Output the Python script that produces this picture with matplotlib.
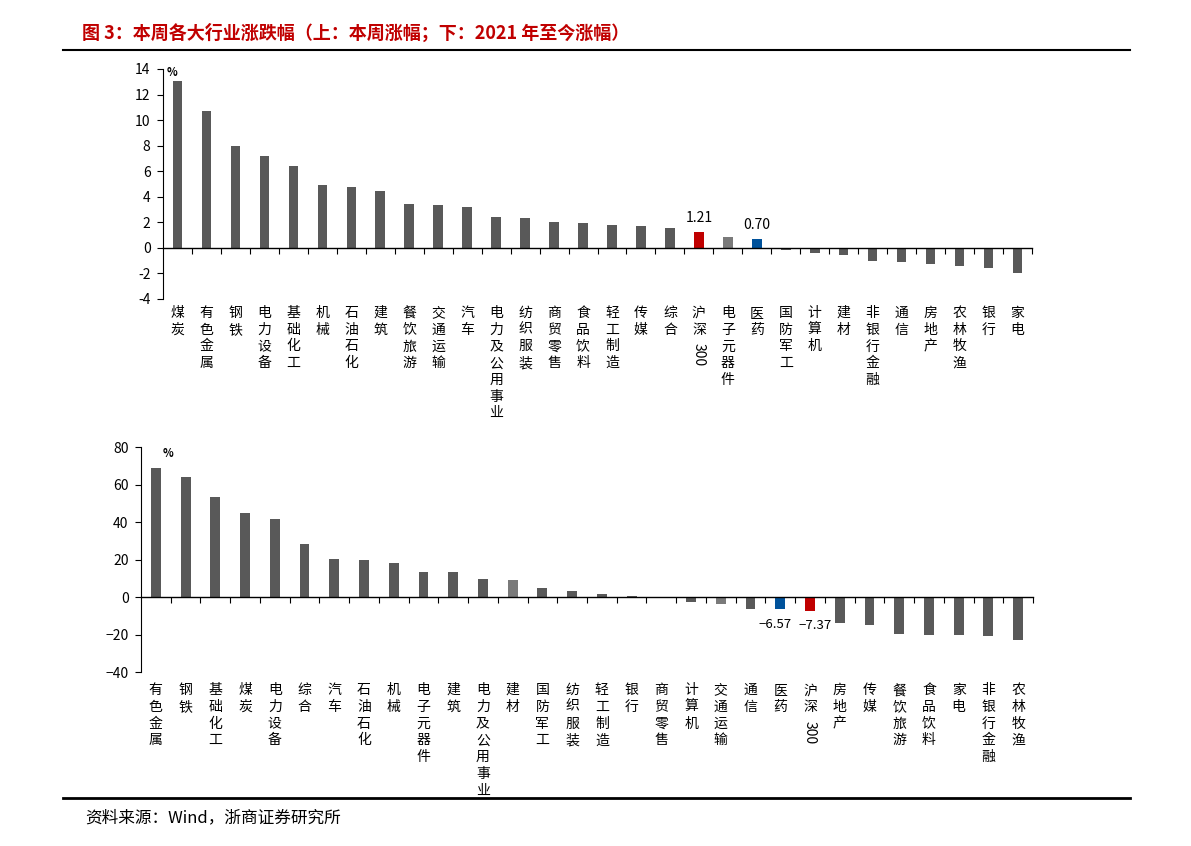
import matplotlib
matplotlib.use("Agg")
import matplotlib.pyplot as plt
from matplotlib.lines import Line2D

plt.rcParams['font.family'] = ['Noto Sans CJK SC', 'DejaVu Sans']

# Données : haut = semaine, bas = depuis 2021
cats_haut = ["煤炭", "有色金属", "钢铁", "电力设备", "基础化工", "机械", "石油石化", "建筑",
             "餐饮旅游", "交通运输", "汽车", "电力及公用事业", "纺织服装", "商贸零售", "食品饮料",
             "轻工制造", "传媒", "综合", "沪深300", "电子元器件", "医药", "国防军工", "计算机",
             "建材", "非银行金融", "通信", "房地产", "农林牧渔", "银行", "家电"]
vals_haut = [13.09, 10.68, 8.0, 7.22, 6.42, 4.94, 4.73, 4.47, 3.45, 3.38, 3.19, 2.39, 2.34, 2.05,
             1.95, 1.77, 1.69, 1.58, 1.21, 0.88, 0.70, -0.2, -0.39, -0.55, -1.06, -1.14, -1.25,
             -1.4, -1.56, -1.95]

cats_bas = ["有色金属", "钢铁", "基础化工", "煤炭", "电力设备", "综合", "汽车", "石油石化", "机械",
            "电子元器件", "建筑", "电力及公用事业", "建材", "国防军工", "纺织服装", "轻工制造", "银行",
            "商贸零售", "计算机", "交通运输", "通信", "医药", "沪深300", "房地产", "传媒", "餐饮旅游",
            "食品饮料", "家电", "非银行金融", "农林牧渔"]
vals_bas = [68.6, 63.8, 53.3, 44.6, 41.8, 28.4, 20.3, 19.7, 18.1, 13.5, 13.2, 9.8, 9.1, 4.8, 3.4,
            1.6, 0.7, 0.1, -2.7, -3.6, -6.4, -6.57, -7.37, -14.0, -15.1, -19.6, -20.3, -20.3,
            -21.0, -22.9]

gris = "#595959"
gris_clair = "#7a7a7a"
rouge = "#C00000"
bleu = "#00529B"

def couleurs(cats, clairs):
    res = []
    for c in cats:
        if c == "沪深300":
            res.append(rouge)
        elif c == "医药":
            res.append(bleu)
        elif c in clairs:
            res.append(gris_clair)
        else:
            res.append(gris)
    return res

def dessiner(ax, cats, vals, cols, ylim, pas, decalage):
    n = len(cats)
    x = list(range(n))
    ax.bar(x, vals, width=0.33, color=cols, zorder=2)
    ax.set_xlim(-0.5, n - 0.5)
    ax.set_ylim(*ylim)
    ax.set_yticks(list(range(ylim[0], ylim[1] + 1, pas)))
    ax.set_yticklabels([str(v).replace("-", "\u2212") if ylim[1] > 20 else str(v)
                        for v in range(ylim[0], ylim[1] + 1, pas)])
    ax.set_xticks([i + 0.5 for i in range(n)])
    ax.set_xticklabels([])
    ax.spines['top'].set_visible(False)
    ax.spines['right'].set_visible(False)
    ax.spines['bottom'].set_position(('data', 0))
    ax.spines['left'].set_linewidth(0.8)
    ax.spines['bottom'].set_linewidth(1.0)
    ax.tick_params(axis='y', direction='out', length=4, width=0.8, labelsize=10, pad=5)
    ax.tick_params(axis='x', direction='out', length=4, width=0.8)
    for i, c in enumerate(cats):
        if c == "沪深300":
            ax.annotate("沪\n深", xy=(i, 0), xycoords=('data', 'axes fraction'),
                        xytext=(0, decalage), textcoords='offset points',
                        ha='center', va='top', fontsize=10, linespacing=1.25)
            ax.annotate("300", xy=(i, 0), xycoords=('data', 'axes fraction'),
                        xytext=(0, decalage - 27), textcoords='offset points',
                        ha='center', va='top', fontsize=10, rotation=270)
        else:
            ax.annotate("\n".join(c), xy=(i, 0), xycoords=('data', 'axes fraction'),
                        xytext=(0, decalage), textcoords='offset points',
                        ha='center', va='top', fontsize=10, linespacing=1.25)

fig = plt.figure(figsize=(11.91, 8.46), dpi=100)

# Graphique du haut
ax1 = fig.add_axes([163 / 1191, 1 - 299 / 846, (1032 - 163) / 1191, 230 / 846])
dessiner(ax1, cats_haut, vals_haut, couleurs(cats_haut, ["电子元器件"]), (-4, 14), 2, -5)
for c in ["沪深300", "医药"]:
    i = cats_haut.index(c)
    ax1.annotate("%.2f" % vals_haut[i], xy=(i, vals_haut[i]), xytext=(0, 5),
                 textcoords='offset points', ha='center', va='bottom', fontsize=10)
fig.text(172 / 1191, 1 - 73 / 846, "%", fontsize=8, fontweight='bold', ha='center', va='center')

# Graphique du bas
ax2 = fig.add_axes([141 / 1191, 1 - 672 / 846, (1033 - 141) / 1191, 225 / 846])
dessiner(ax2, cats_bas, vals_bas, couleurs(cats_bas, ["建材", "交通运输"]), (-40, 80), 20, -8)
# les deux étiquettes se touchent presque : on les écarte un peu
for c, dx in [("医药", -4), ("沪深300", 4)]:
    i = cats_bas.index(c)
    ax2.annotate(("%.2f" % vals_bas[i]).replace("-", "\u2212"), xy=(i, vals_bas[i]),
                 xytext=(dx, -6), textcoords='offset points', ha='center', va='top', fontsize=9.5)
fig.text(168 / 1191, 1 - 453 / 846, "%", fontsize=8, fontweight='bold', ha='center', va='center')

# Titre, lignes et source
fig.text(82 / 1191, 1 - 33 / 846, "图 3：本周各大行业涨跌幅（上：本周涨幅；下：2021 年至今涨幅）",
         color=rouge, fontsize=13, fontweight='bold', ha='left', va='center')
fig.add_artist(Line2D([63 / 1191, 1130 / 1191], [1 - 50 / 846, 1 - 50 / 846],
                      transform=fig.transFigure, color='black', linewidth=1.5))
fig.add_artist(Line2D([63 / 1191, 1130 / 1191], [1 - 798 / 846, 1 - 798 / 846],
                      transform=fig.transFigure, color='black', linewidth=2))
fig.text(85 / 1191, 1 - 818 / 846, "资料来源：Wind，浙商证券研究所", fontsize=12,
         ha='left', va='center')

fig.savefig("out.png", dpi=100)
